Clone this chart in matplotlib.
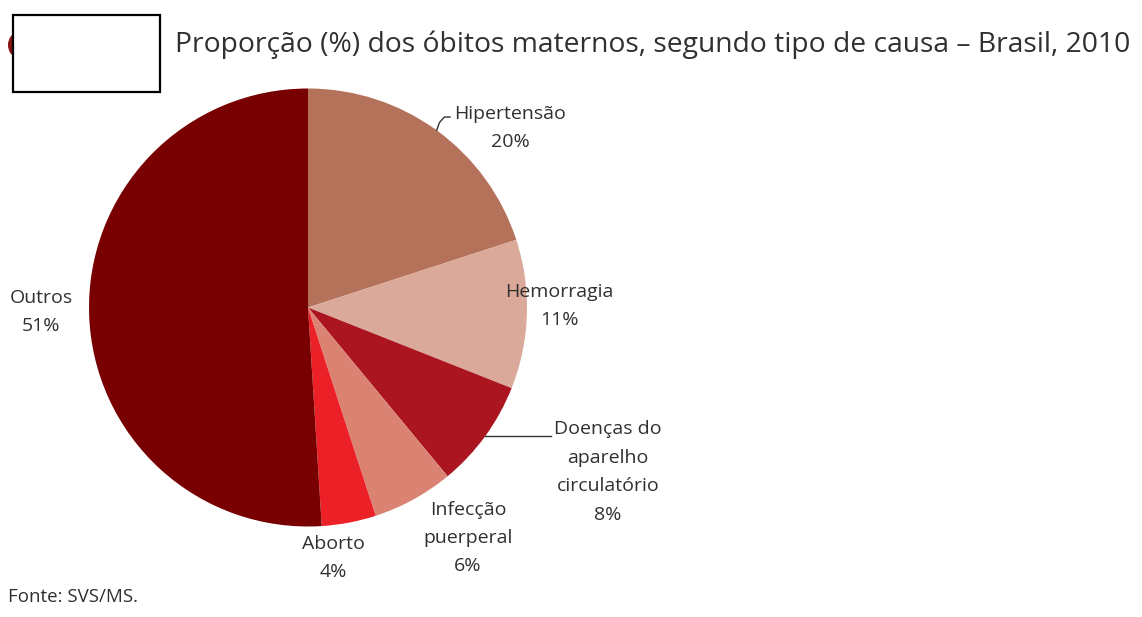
import matplotlib
matplotlib.use("Agg")
import numpy as np
import matplotlib.pyplot as plt
from matplotlib.patches import Rectangle, Ellipse

# causas de óbito materno, Brasil 2010
causas = ["Hipertensão", "Hemorragia", "Doenças do\naparelho\ncirculatório",
          "Infecção\npuerperal", "Aborto", "Outros"]
valores = [20, 11, 8, 6, 4, 51]
cores = ["#b5725b", "#dba999", "#ab1520", "#db8373", "#ec2027", "#780000"]

W, H = 1142, 617
fig = plt.figure(figsize=(W / 100, H / 100), dpi=100)
fig.patch.set_facecolor("white")

def fx(x):
    return x / W

def fy(y):
    return 1 - y / H

# pizza: centro (308, 307), raio 219 px
cx, cy, r = 308, 307.5, 219
ax = fig.add_axes([fx(cx - r), fy(cy + r), 2 * r / W, 2 * r / H])
wedges, _ = ax.pie(valores, colors=cores, startangle=90, counterclock=False,
                   radius=1, wedgeprops=dict(linewidth=0))
ax.set_xlim(-1, 1)
ax.set_ylim(-1, 1)
ax.set_aspect("auto")
ax.axis("off")

txt = "#303030"
fs = 14

def px2d(x, y):
    return (x - cx) / r, (cy - y) / r

def rotulo(i, x, y):
    nome = causas[i]
    s = f"{nome}\n{valores[i]}%"
    dx, dy = px2d(x, y)
    ax.text(dx, dy, s, ha="center", va="center", fontsize=fs, color=txt,
            linespacing=1.74, family="Open Sans", clip_on=False)

def borda(i):
    w = wedges[i]
    ang = np.deg2rad((w.theta1 + w.theta2) / 2)
    return np.cos(ang), np.sin(ang)

rotulo(0, 510, 128)
rotulo(1, 559, 306)
rotulo(2, 608, 472)
rotulo(3, 468, 538)
rotulo(4, 333, 558)
rotulo(5, 41, 312)

# linhas de chamada
ex, ey = borda(0)
ax.plot([ex, ex + 0.012, ex + 0.035, px2d(450, 0)[0]],
        [ey, ey + 0.035, px2d(0, 117)[1], px2d(0, 117)[1]],
        color="#333333", lw=1, clip_on=False)
ex, ey = borda(2)
ax.plot([ex, px2d(551, 0)[0]], [ey, ey], color="#333333", lw=1, clip_on=False)

fig.text(fx(175), fy(45), "Proporção (%) dos óbitos maternos, segundo tipo de causa – Brasil, 2010",
         ha="left", va="center", fontsize=20.3, color=txt, family="Open Sans")
fig.text(fx(8), fy(597), "Fonte: SVS/MS.", ha="left", va="center",
         fontsize=13.5, color=txt, family="Open Sans")

# marca vermelha parcialmente coberta pela caixa branca
fig.patches.append(Ellipse((fx(17), fy(45)), 18 / W, 24 / H, transform=fig.transFigure,
                           facecolor="#8a1515", edgecolor="none"))
fig.patches.append(Rectangle((fx(13), fy(92)), 147 / W, 77 / H, transform=fig.transFigure,
                             facecolor="white", edgecolor="black", lw=1.6))

fig.savefig("out.png", dpi=100, facecolor="white")
